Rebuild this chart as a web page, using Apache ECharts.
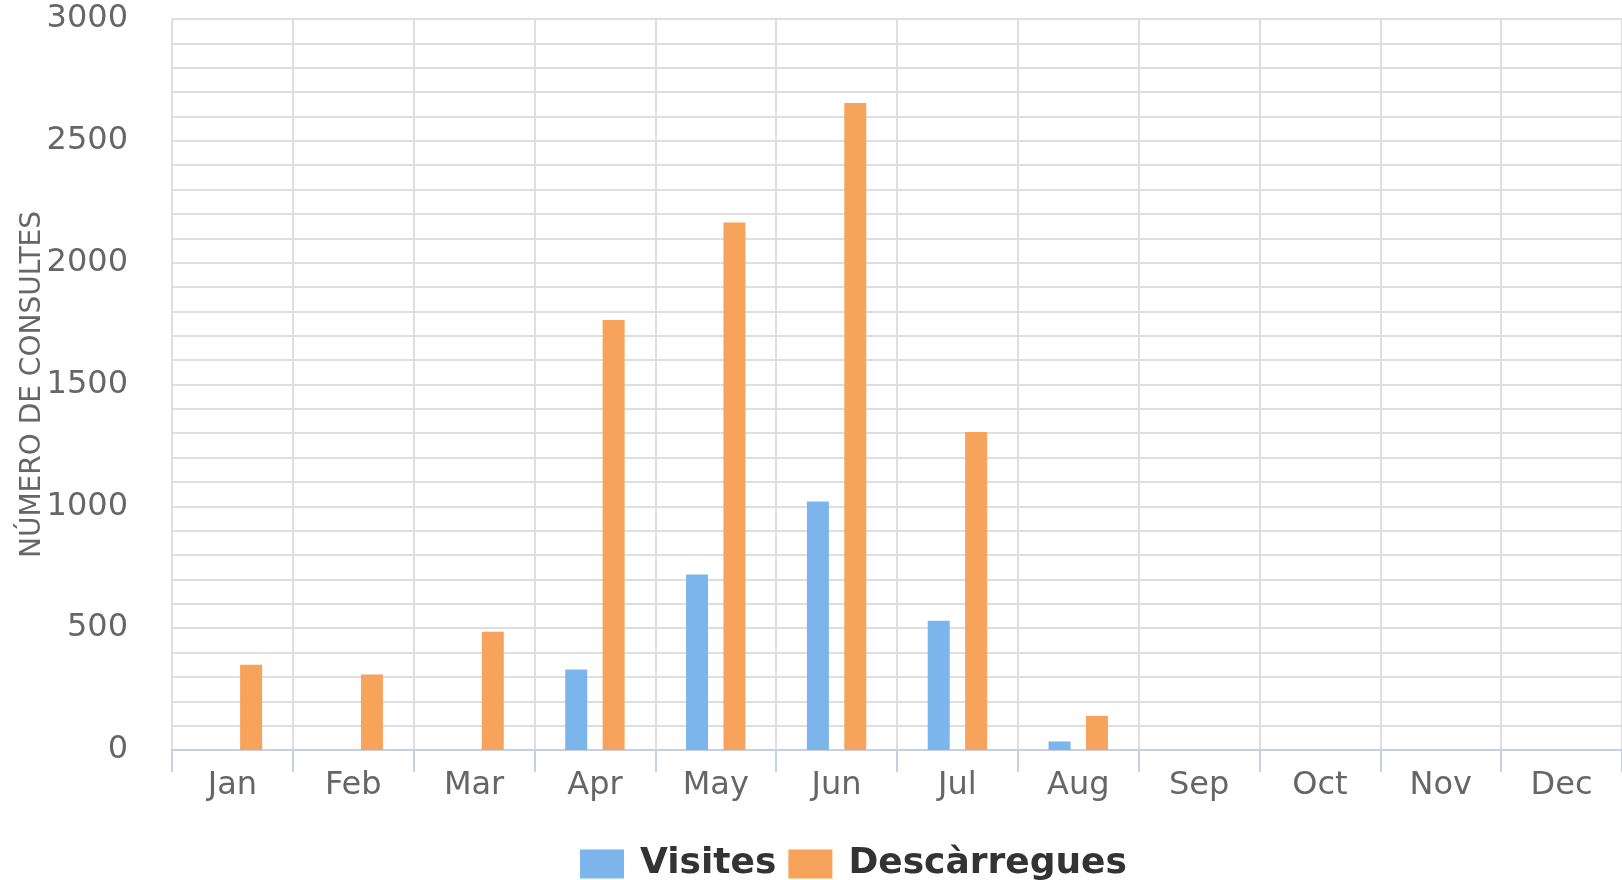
<!doctype html>
<html lang="ca">
<head>
    <meta charset="UTF-8">
    <title>Consultes</title>
    <script src="https://cdn.jsdelivr.net/npm/echarts@6/dist/echarts.min.js"></script>
    <style>
        html, body { margin: 0; padding: 0; background: #fff; }
    </style>
</head>
<body>
<div id="main" style="width:1622px;height:880px;"></div>
<script type="text/javascript">
    // dades
    var months = ['Jan', 'Feb', 'Mar', 'Apr', 'May', 'Jun', 'Jul', 'Aug', 'Sep', 'Oct', 'Nov', 'Dec'];
    var visites = [0, 0, 0, 330, 720, 1020, 530, 35, null, null, null, null];
    var descarregues = [350, 310, 485, 1765, 2165, 2655, 1305, 140, null, null, null, null];

    var font = 'DejaVu Sans';
    var gridColor = '#dedede';
    var axisColor = '#c6d0e2';

    var myChart = echarts.init(document.getElementById('main'));
    var option = {
        animation: false,
        textStyle: { fontFamily: font },
        grid: { left: 172, right: 0, top: 19, bottom: 130, containLabel: false, outerBoundsMode: 'none' },
        legend: {
            top: 841,
            left: 575,
            itemWidth: 44,
            itemHeight: 29,
            itemGap: 12,
            icon: 'rect',
            textStyle: { fontFamily: font, fontSize: 36, fontWeight: 'bold', color: '#333', padding: [0, 0, 0, 11] },
            data: ['Visites', 'Descàrregues']
        },
        xAxis: {
            type: 'category',
            data: months,
            boundaryGap: true,
            axisLine: { lineStyle: { color: axisColor, width: 2 } },
            axisTick: { show: true, length: 22, lineStyle: { color: axisColor, width: 2 } },
            axisLabel: { color: '#666', fontSize: 32, margin: 20, fontFamily: font },
            splitLine: { show: true, lineStyle: { color: gridColor, width: 2 } }
        },
        yAxis: {
            type: 'value',
            min: 0,
            max: 3000,
            interval: 500,
            name: 'NÚMERO DE CONSULTES',
            nameLocation: 'middle',
            nameRotate: 90,
            nameGap: 125,
            nameMoveOverlap: false,
            nameTextStyle: { color: '#666', fontSize: 28, fontFamily: font },
            axisLine: { show: false },
            axisTick: { show: false },
            axisLabel: {
                color: '#666', fontSize: 32, margin: 44, fontFamily: font,
                formatter: function (v) { return String(v); }
            },
            splitLine: { show: true, lineStyle: { color: gridColor, width: 2 } },
            minorTick: { show: false, splitNumber: 5 },
            minorSplitLine: { show: true, lineStyle: { color: gridColor, width: 2 } }
        },
        series: [
            {
                name: 'Visites',
                type: 'bar',
                data: visites,
                barWidth: 22,
                barGap: '70%',
                itemStyle: { color: '#7cb5ec' }
            },
            {
                name: 'Descàrregues',
                type: 'bar',
                data: descarregues,
                barWidth: 22,
                barGap: '70%',
                itemStyle: { color: '#f7a35c' }
            }
        ]
    };
    myChart.setOption(option);
</script>
</body>
</html>
